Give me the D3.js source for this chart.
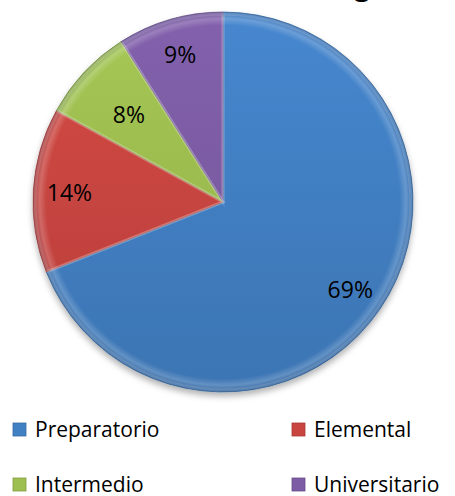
<!DOCTYPE html>
<html>
<head>
<meta charset="utf-8">
<script src="https://cdn.jsdelivr.net/npm/d3@7"></script>
<style>
  body { margin: 0; background: #fff; }
  svg { display: block; font-family: "Open Sans", sans-serif; }
</style>
</head>
<body>
<svg id="svg" width="455" height="496"></svg>
<script>
// chart data
var categories = ["Preparatorio", "Elemental", "Intermedio", "Universitario"];
var values = [69, 14, 8, 9];
var colors = ["#4280c4", "#c94540", "#9dbe50", "#7c5ca4"];
var titleText = "g";

var svg = d3.select("#svg");
var cx = 223, cy = 202, R = 190;

var defs = svg.append("defs");
var shadow = defs.append("filter").attr("id", "shadow")
    .attr("x", "-20%").attr("y", "-20%").attr("width", "140%").attr("height", "140%");
shadow.append("feDropShadow")
    .attr("dx", 0).attr("dy", 4).attr("stdDeviation", 3)
    .attr("flood-color", "#000").attr("flood-opacity", 0.3);

// vertical shading per slice
colors.forEach(function(c, i) {
    var g = defs.append("linearGradient").attr("id", "grad" + i)
        .attr("gradientUnits", "userSpaceOnUse")
        .attr("x1", 0).attr("y1", -R).attr("x2", 0).attr("y2", R);
    var base = d3.color(c);
    g.append("stop").attr("offset", "0%").attr("stop-color", base.brighter(0.15));
    g.append("stop").attr("offset", "100%").attr("stop-color", base.darker(0.25));
});

// rim bevel overlay
var rim = defs.append("radialGradient").attr("id", "rim")
    .attr("gradientUnits", "userSpaceOnUse")
    .attr("cx", 0).attr("cy", 0).attr("r", R);
rim.append("stop").attr("offset", "0%").attr("stop-color", "#fff").attr("stop-opacity", 0);
rim.append("stop").attr("offset", "93%").attr("stop-color", "#fff").attr("stop-opacity", 0);
rim.append("stop").attr("offset", "96.5%").attr("stop-color", "#fff").attr("stop-opacity", 0.2);
rim.append("stop").attr("offset", "100%").attr("stop-color", "#102040").attr("stop-opacity", 0.2);

// title (cut off at the top of the picture)
svg.append("text")
    .attr("x", 370).attr("y", -5)
    .attr("text-anchor", "end")
    .attr("font-weight", "bold")
    .attr("font-size", 28)
    .text(titleText);

var pie = d3.pie().sort(null).value(d => d);
var arcs = pie(values);
var arc = d3.arc().innerRadius(0).outerRadius(R);

var container = svg.append("g").attr("transform", `translate(${cx}, ${cy})`);

container.append("g").attr("filter", "url(#shadow)")
  .selectAll("path")
    .data(arcs)
    .enter()
    .append("path")
    .attr("d", arc)
    .attr("fill", (d, i) => "url(#grad" + i + ")")
    .attr("stroke", (d, i) => d3.color(colors[i]).darker(0.7))
    .attr("stroke-width", 0.7)
    .attr("stroke-linejoin", "round");

container.append("circle")
    .attr("r", R)
    .attr("fill", "url(#rim)");

// light edge highlight along the slice borders
container.selectAll("path.hl")
    .data(arcs)
    .enter()
    .append("path")
    .attr("class", "hl")
    .attr("d", d3.arc().innerRadius(0).outerRadius(R - 2))
    .attr("fill", "none")
    .attr("stroke", "#fff")
    .attr("stroke-opacity", 0.15)
    .attr("stroke-width", 3);

function labelRadius(d) {
    var span = d.endAngle - d.startAngle;
    return span < 0.53 ? R * 0.68 : R * 0.81;
}

container.selectAll("text.lbl")
    .data(arcs)
    .enter()
    .append("text")
    .attr("class", "lbl")
    .attr("x", d => d3.arc().innerRadius(labelRadius(d)).outerRadius(labelRadius(d)).centroid(d)[0])
    .attr("y", d => d3.arc().innerRadius(labelRadius(d)).outerRadius(labelRadius(d)).centroid(d)[1])
    .attr("text-anchor", "middle")
    .attr("dominant-baseline", "central")
    .attr("font-size", 23)
    .attr("fill", "#000")
    .text(d => d.data + "%");

// legend 2x2
var legX = d3.scaleOrdinal().domain([0, 1]).range([13, 292]);
var legY = d3.scaleOrdinal().domain([0, 1]).range([437, 492]);

var leg = svg.append("g").selectAll("g")
    .data(categories)
    .enter()
    .append("g")
    .attr("transform", (d, i) => `translate(${legX(i % 2)}, ${legY(Math.floor(i / 2))})`);

leg.append("rect")
    .attr("x", 0).attr("y", -14)
    .attr("width", 13).attr("height", 13)
    .attr("fill", (d, i) => colors[i])
    .attr("stroke", (d, i) => d3.color(colors[i]).darker(0.5))
    .attr("stroke-width", 0.8);

leg.append("text")
    .attr("x", 22).attr("y", 0)
    .attr("font-size", 21)
    .attr("fill", "#000")
    .text(d => d);
</script>
</body>
</html>
